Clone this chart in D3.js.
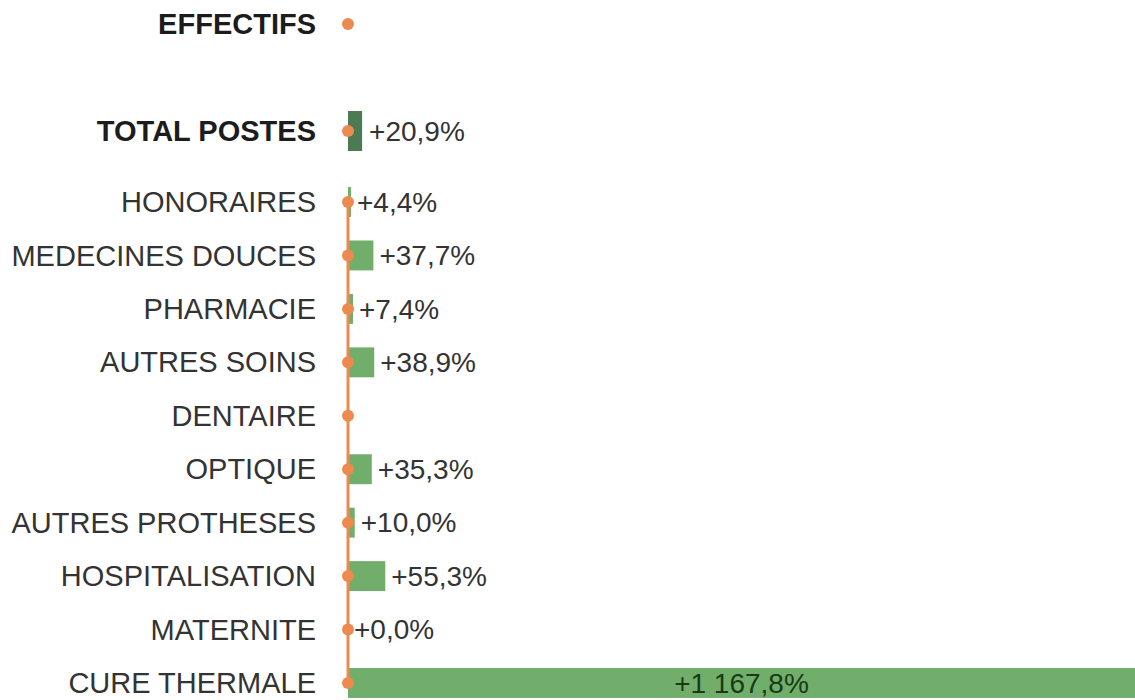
<!DOCTYPE html>
<html><head><meta charset="utf-8">
<script src="https://cdn.jsdelivr.net/npm/d3@7"></script>
<style>html,body{margin:0;padding:0;background:#fff;overflow:hidden}</style>
</head><body>
<svg id="chart" width="1135" height="700"></svg>
<script>
const headerRows = ["EFFECTIFS", "", "TOTAL POSTES"];
const headerVariations = [null, null, 20.9];
const headerDots = [0, null, 0];
const categories = ["HONORAIRES","MEDECINES DOUCES","PHARMACIE","AUTRES SOINS","DENTAIRE","OPTIQUE","AUTRES PROTHESES","HOSPITALISATION","MATERNITE","CURE THERMALE"];
const variations = [4.4, 37.7, 7.4, 38.9, null, 35.3, 10.0, 55.3, 0.0, 1167.8];
const dots = [0, 0, 0, 0, 0, 0, 0, 0, 0, 0];

const svg = d3.select("#chart");
const fr = d3.formatLocale({decimal: ",", thousands: "\u00a0", grouping: [3], currency: ["", "€"]});
const fmt = v => fr.format("+,.1f")(v) + "%";

const x = d3.scaleLinear().domain([0, 1167.8]).range([348, 1135]);
const yH = d3.scalePoint().domain(headerRows).range([24, 131]);
const y = d3.scaleBand().domain(categories).range([175.3, 709.7]).paddingInner(0.44).paddingOuter(0.22);

const font = "'Liberation Sans', Arial, sans-serif";
const orange = "#ec8a4f";
const green = "#72ae6b";
const dark = "#4c7a52";

const hd = headerRows.map((c, i) => ({c, v: headerVariations[i], d: headerDots[i]}));
const rows = categories.map((c, i) => ({c, v: variations[i], d: dots[i]}));

svg.selectAll(".hbar").data(hd.filter(d => d.v != null)).join("rect")
  .attr("x", x(0)).attr("y", d => yH(d.c) - 20)
  .attr("width", d => x(d.v) - x(0)).attr("height", 40).attr("fill", dark);

svg.selectAll(".bar").data(rows.filter(d => d.v != null)).join("rect")
  .attr("x", x(0)).attr("y", d => y(d.c))
  .attr("width", d => x(d.v) - x(0)).attr("height", y.bandwidth()).attr("fill", green);

const line = d3.line().x(d => x(d.d)).y(d => y(d.c) + y.bandwidth() / 2);
svg.append("path").datum(rows).attr("d", line)
  .attr("fill", "none").attr("stroke", orange).attr("stroke-width", 3);

svg.selectAll(".hdot").data(hd.filter(d => d.d != null)).join("circle")
  .attr("cx", d => x(d.d)).attr("cy", d => yH(d.c)).attr("r", 6).attr("fill", orange);
svg.selectAll(".dot").data(rows).join("circle")
  .attr("cx", d => x(d.d)).attr("cy", d => y(d.c) + y.bandwidth() / 2).attr("r", 6).attr("fill", orange);

svg.selectAll(".hlab").data(hd.filter(d => d.c)).join("text")
  .attr("x", x(0) - 32).attr("y", d => yH(d.c)).attr("dy", "0.35em")
  .attr("text-anchor", "end").attr("font-family", font).attr("font-weight", "bold")
  .attr("font-size", 29).attr("fill", "#1c1c1c").text(d => d.c);
svg.selectAll(".lab").data(rows).join("text")
  .attr("x", x(0) - 32).attr("y", d => y(d.c) + y.bandwidth() / 2).attr("dy", "0.35em")
  .attr("text-anchor", "end").attr("font-family", font)
  .attr("font-size", 29).attr("fill", "#333").text(d => d.c);

svg.selectAll(".hval").data(hd.filter(d => d.v != null)).join("text")
  .attr("x", d => x(d.v) + 7).attr("y", d => yH(d.c)).attr("dy", "0.35em")
  .attr("font-family", font).attr("font-size", 28).attr("fill", "#333").text(d => fmt(d.v));
svg.selectAll(".val").data(rows.filter(d => d.v != null)).join("text")
  .attr("x", d => d.v > 500 ? (x(0) + x(d.v)) / 2 : x(d.v) + 6)
  .attr("text-anchor", d => d.v > 500 ? "middle" : "start")
  .attr("y", d => y(d.c) + y.bandwidth() / 2).attr("dy", "0.35em")
  .attr("font-family", font).attr("font-size", 28)
  .attr("fill", d => d.v > 500 ? "#173a17" : "#333").text(d => fmt(d.v));
</script>
</body></html>
